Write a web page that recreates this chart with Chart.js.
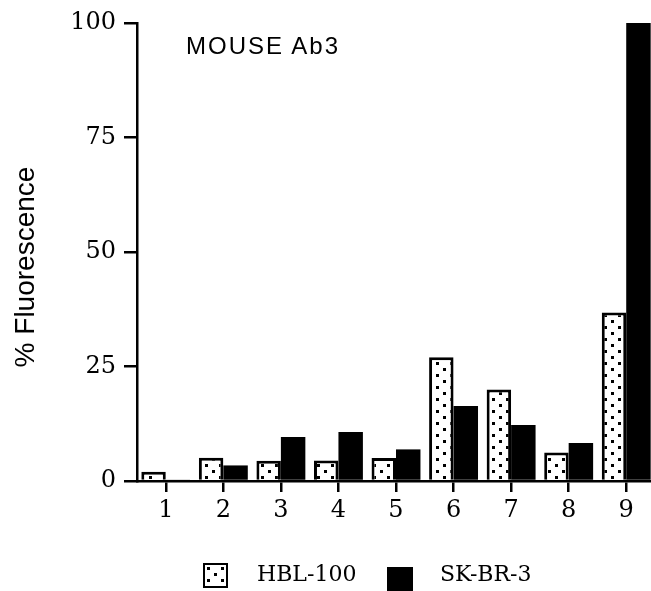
<!DOCTYPE html>
<html>
<head>
<meta charset="utf-8">
<script src="https://cdn.jsdelivr.net/npm/chart.js@4"></script>
<style>
  html, body { margin: 0; padding: 0; background: #fff; overflow: hidden; }
  #wrap { position: relative; width: 660px; height: 591px; }
  #chart { position: absolute; left: 0; top: 0; }
  .txt { position: absolute; white-space: nowrap; color: #000; }
  #ytitle { font-family: "Liberation Sans", Arial, sans-serif; font-size: 28px; line-height: 28px;
            width: 300px; height: 28px; text-align: center; left: -125px; top: 253px; transform: rotate(-90deg); }
  #note { font-family: "Liberation Sans", Arial, sans-serif; font-size: 24px; line-height: 24px;
          letter-spacing: 2px; left: 186px; top: 34px; }
  .legtxt { font-family: "DejaVu Serif", serif; font-size: 22px; line-height: 22px; top: 563px; }
  .swatch { position: absolute; box-sizing: border-box; }
  #sw1 { left: 203px; top: 563px; width: 25px; height: 25px; border: 2.5px solid #000; background-color: #fff; }
  #sw2 { left: 387px; top: 567px; width: 26px; height: 24px; background: #000; }
  #sw1 canvas { display: block; }
</style>
</head>
<body>
<div id="wrap">
  <canvas id="chart" width="660" height="591"></canvas>
  <div class="txt" id="ytitle">% Fluorescence</div>
  <div class="txt" id="note">MOUSE Ab3</div>
  <div class="swatch" id="sw1"><canvas id="swc" width="20" height="20"></canvas></div>
  <div class="txt legtxt" id="leg1" style="left:257px;">HBL-100</div>
  <div class="swatch" id="sw2"></div>
  <div class="txt legtxt" id="leg2" style="left:440px;">SK-BR-3</div>
</div>
<script>
// ---- data ----
const categories = ['1', '2', '3', '4', '5', '6', '7', '8', '9'];
const hbl100 = [2.0, 5.1, 4.4, 4.5, 5.0, 27.0, 20.0, 6.2, 36.8];
const skbr3 = [0.3, 3.4, 9.6, 10.7, 6.9, 16.4, 12.2, 8.3, 100];
const yTicks = [0, 25, 50, 75, 100];
const seriesNames = ['HBL-100', 'SK-BR-3'];

// ---- dotted pattern ----
function makeDotTile() {
  const t = document.createElement('canvas');
  t.width = 14; t.height = 12;
  const c = t.getContext('2d');
  c.fillStyle = '#fff';
  c.fillRect(0, 0, 14, 12);
  c.fillStyle = '#000';
  c.fillRect(2, 2, 3, 3);
  c.fillRect(9, 8, 3, 3);
  return t;
}
const tile = makeDotTile();
const ctx = document.getElementById('chart').getContext('2d');
const dotPattern = ctx.createPattern(tile, 'repeat');

// legend swatch pattern
(function () {
  const sc = document.getElementById('swc').getContext('2d');
  sc.fillStyle = sc.createPattern(tile, 'repeat');
  sc.fillRect(0, 0, 20, 20);
})();

const serif = "'DejaVu Serif', serif";

new Chart(ctx, {
  type: 'bar',
  data: {
    labels: categories,
    datasets: [
      {
        label: seriesNames[0],
        data: hbl100,
        backgroundColor: dotPattern,
        borderColor: '#000',
        borderWidth: 3,
        borderSkipped: 'start'
      },
      {
        label: seriesNames[1],
        data: skbr3,
        backgroundColor: '#000',
        borderColor: '#000',
        borderWidth: 0
      }
    ]
  },
  options: {
    responsive: false,
    animation: false,
    devicePixelRatio: 1,
    layout: { padding: { left: 66, top: 23, right: 5, bottom: 60 } },
    plugins: {
      legend: { display: false },
      tooltip: { enabled: false },
      title: { display: false }
    },
    datasets: { bar: { categoryPercentage: 0.85, barPercentage: 1.0 } },
    scales: {
      x: {
        offset: true,
        grid: { display: true, offset: false, drawOnChartArea: false, drawTicks: true,
                tickLength: 11, color: '#000', lineWidth: 2.5 },
        border: { display: true, color: '#000', width: 2.5 },
        ticks: { color: '#000', font: { family: serif, size: 24 }, padding: 4, maxRotation: 0 },
        afterFit(scale) { scale.height = 50; }
      },
      y: {
        min: 0,
        max: 100,
        grid: { display: true, drawOnChartArea: false, drawTicks: true,
                tickLength: 13, color: '#000', lineWidth: 2.5 },
        border: { display: true, color: '#000', width: 2.5 },
        ticks: { color: '#000', font: { family: serif, size: 24 }, padding: 8 },
        afterBuildTicks(scale) { scale.ticks = yTicks.map(v => ({ value: v })); },
        afterFit(scale) { scale.width = 71; }
      }
    }
  }
});
</script>
</body>
</html>
